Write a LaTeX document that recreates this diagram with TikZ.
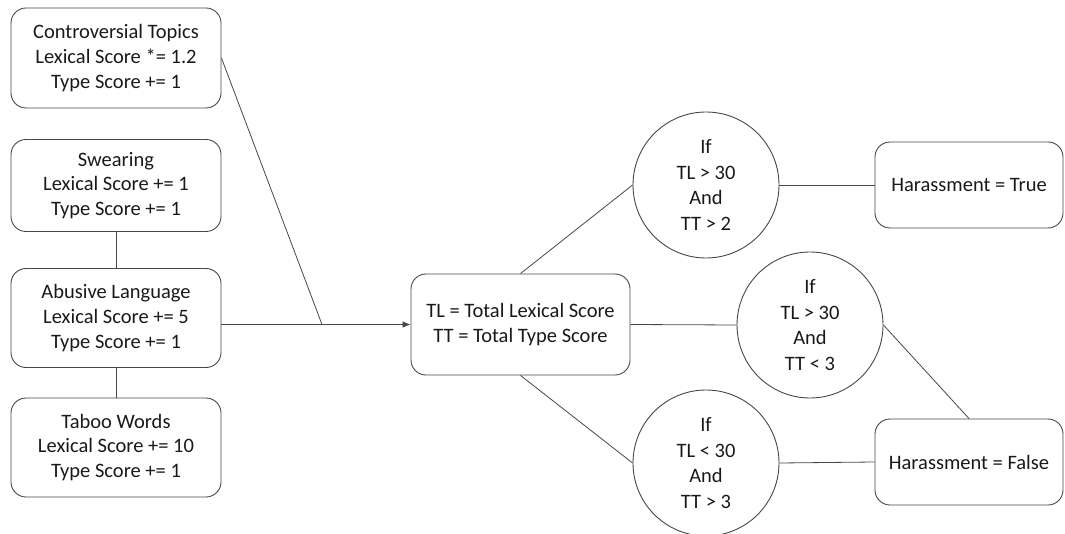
\documentclass[tikz,border=0pt]{standalone}
\usepackage{fontspec}
\setmainfont{Carlito}
\usetikzlibrary{arrows.meta}
\tikzset{
  box/.style={draw=black!72, line width=0.9pt, rounded corners=15pt, align=center,
    text=black!90, inner sep=0pt, font=\fontsize{20.5}{24.8}\selectfont},
  cond/.style={draw=black!72, line width=0.9pt, circle, minimum size=146pt, align=center,
    text=black!90, inner sep=0pt, font=\fontsize{20.5}{25.5}\selectfont},
  link/.style={draw=black!72, line width=0.8pt},
  feed/.style={link, -{Latex[length=8pt,width=6.5pt]}}
}
\begin{document}
\begin{tikzpicture}[x=1pt,y=-1pt]
\useasboundingbox (0,0) rectangle (1065,534);

% word categories
\node[box, minimum width=210pt, minimum height=100pt] (contr) at (116,58)
  {Controversial Topics\\Lexical Score *= 1.2\\Type Score += 1};
\node[box, minimum width=210pt, minimum height=92pt] (swear) at (116,185.5)
  {Swearing\\Lexical Score += 1\\Type Score += 1};
\node[box, minimum width=210pt, minimum height=99pt] (abuse) at (116,318)
  {Abusive Language\\Lexical Score += 5\\Type Score += 1};
\node[box, minimum width=210pt, minimum height=99pt] (taboo) at (116,447.5)
  {Taboo Words\\Lexical Score += 10\\Type Score += 1};

% totals
\node[box, minimum width=219pt, minimum height=101pt] (total) at (520.5,324.5)
  {TL = Total Lexical Score\\TT = Total Type Score};

% conditions
\node[cond] (c1) at (706,185) {If\\TL > 30\\And\\TT > 2};
\node[cond] (c2) at (810,325) {If\\TL > 30\\And\\TT < 3};
\node[cond] (c3) at (706,463) {If\\TL < 30\\And\\TT > 3};

% outcomes
\node[box, minimum width=188pt, minimum height=86pt] (yes) at (969,185) {Harassment = True};
\node[box, minimum width=188pt, minimum height=86pt] (no) at (969,462) {Harassment = False};

% connectors
\coordinate (j) at (322,324.5);
\draw[link] (swear.south) -- (abuse.north);
\draw[link] (abuse.south) -- (taboo.north);
\draw[feed] (abuse.east |- total.west) -- (total.west);
\draw[link] (contr.east) -- (j);
\draw[link] (total.north) -- (c1.west);
\draw[link] (total.east) -- (c2.west);
\draw[link] (total.south) -- (c3.west);
\draw[link] (c1.east) -- (yes.west);
\draw[link] (c3.east) -- (no.west);
\draw[link] (c2.east) -- (no.north);
\end{tikzpicture}
\end{document}
